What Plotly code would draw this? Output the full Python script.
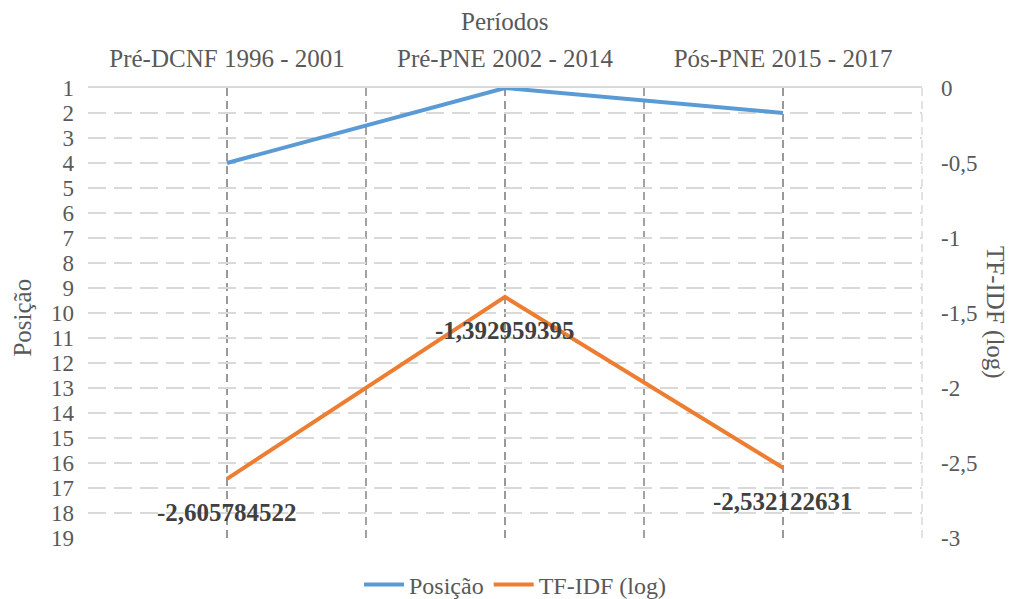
import plotly.graph_objects as go

periods = ["Pré-DCNF 1996 - 2001", "Pré-PNE 2002 - 2014", "Pós-PNE 2015 - 2017"]
posicao = [4, 1, 2]
tfidf_log = [-2.605784522, -1.392959395, -2.532122631]

pos_ticks = list(range(1, 20))
pos_ticktext = [str(t) for t in pos_ticks]
tfidf_ticks = [0, -0.5, -1, -1.5, -2, -2.5, -3]
tfidf_ticktext = ["0", "-0,5", "-1", "-1,5", "-2", "-2,5", "-3"]

FONT = "Liberation Serif, Times New Roman, serif"
GREY = "#595959"
BLUE = "#5B9BD5"
ORANGE = "#ED7D31"

fig = go.Figure()

fig.add_trace(go.Scatter(
    x=periods, y=posicao, name="Posição", mode="lines",
    line=dict(color=BLUE, width=4), yaxis="y",
))
fig.add_trace(go.Scatter(
    x=periods, y=tfidf_log, name="TF-IDF (log)", mode="lines",
    line=dict(color=ORANGE, width=4), yaxis="y2",
))

# data labels below the TF-IDF points
annotations = []
for p, v in zip(periods, tfidf_log):
    annotations.append(dict(
        x=p, y=v, xref="x", yref="y2", yshift=-34,
        text=f"{v:.9f}".replace(".", ","), showarrow=False,
        font=dict(family=FONT, size=25, color="#404040", weight="bold"),
    ))

annotations += [
    dict(text="Períodos", x=0.5, y=1.147, xref="paper", yref="paper",
         xanchor="center", yanchor="middle",
         showarrow=False, font=dict(family=FONT, size=25, color=GREY)),
    dict(text="Posição", x=-0.079, y=0.49, xref="paper", yref="paper",
         xanchor="center", yanchor="middle",
         textangle=-90, showarrow=False, font=dict(family=FONT, size=25, color=GREY)),
    dict(text="TF-IDF (log)", x=1.0875, y=0.5, xref="paper", yref="paper",
         xanchor="center", yanchor="middle",
         textangle=90, showarrow=False, font=dict(family=FONT, size=25, color=GREY)),
]

# category boundaries and right border
shapes = []
for i in range(len(periods) - 1):
    shapes.append(dict(type="line", xref="x", yref="paper", x0=i + 0.5, x1=i + 0.5,
                       y0=0, y1=1, layer="below",
                       line=dict(color="#999999", width=1.8, dash="8px,5px")))
shapes.append(dict(type="line", xref="paper", yref="paper", x0=1, x1=1, y0=0, y1=1,
                   layer="below", line=dict(color="#d0d0d0", width=1.2, dash="8px,5px")))

# page body has an 8px margin, so the figure is a bit smaller and shifted
fig.update_layout(
    width=1008, height=591,
    margin=dict(l=80, r=94, t=80, b=61, autoexpand=False),
    paper_bgcolor="white", plot_bgcolor="white",
    font=dict(family=FONT, size=23, color=GREY),
    showlegend=True,
    legend=dict(orientation="h", x=0.512, xanchor="center", y=-0.104, yanchor="middle",
                font=dict(family=FONT, size=24, color=GREY), itemwidth=40),
    xaxis=dict(
        side="top", type="category", range=[-0.5, 2.5], automargin=False,
        showgrid=True, gridcolor="#999999", gridwidth=1.8, griddash="8px,5px",
        showline=True, linecolor="#d9d9d9", linewidth=2, mirror=False,
        ticks="", ticklabelstandoff=9,
        tickfont=dict(family=FONT, size=25, color=GREY),
    ),
    yaxis=dict(
        range=[19, 1], tickvals=pos_ticks, ticktext=pos_ticktext, automargin=False,
        showgrid=True, gridcolor="#d9d9d9", gridwidth=2, griddash="18px,8px",
        zeroline=False, showline=False, ticks="", ticklabelstandoff=13,
        tickfont=dict(family=FONT, size=23, color=GREY),
    ),
    yaxis2=dict(
        overlaying="y", side="right", range=[-3, 0], automargin=False,
        tickvals=tfidf_ticks, ticktext=tfidf_ticktext,
        showgrid=False, zeroline=False, showline=False, ticks="", ticklabelstandoff=18,
        tickfont=dict(family=FONT, size=23, color=GREY),
    ),
    annotations=annotations,
    shapes=shapes,
)

fig.write_html("out.html")
